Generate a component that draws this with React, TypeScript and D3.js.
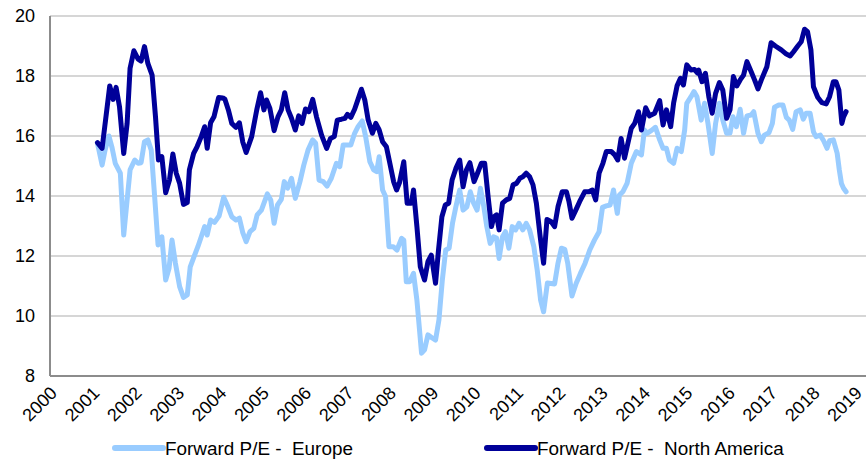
import React from "react";
import * as d3 from "d3";

// tick labels
const yearTicks = [2000, 2001, 2002, 2003, 2004, 2005, 2006, 2007, 2008, 2009, 2010, 2011, 2012, 2013, 2014, 2015, 2016, 2017, 2018, 2019];
const valueTicks = [8, 10, 12, 14, 16, 18, 20];

// Forward P/E - Europe (decimal year, value)
const europeDates = [
  2001.12, 2001.23, 2001.30, 2001.39, 2001.46, 2001.54, 2001.66, 2001.74, 2001.82, 2001.89,
  2002.00, 2002.08, 2002.15, 2002.23, 2002.31, 2002.39, 2002.47, 2002.55, 2002.64, 2002.73,
  2002.81, 2002.88, 2002.96, 2003.06, 2003.15, 2003.24, 2003.31, 2003.40, 2003.49, 2003.57,
  2003.65, 2003.71, 2003.79, 2003.88, 2003.99, 2004.10, 2004.20, 2004.29, 2004.39, 2004.47,
  2004.55, 2004.63, 2004.72, 2004.81, 2004.89, 2004.99, 2005.13, 2005.21, 2005.29, 2005.37,
  2005.46, 2005.53, 2005.61, 2005.70, 2005.79, 2005.90, 2005.99, 2006.09, 2006.20, 2006.27,
  2006.35, 2006.45, 2006.54, 2006.64, 2006.76, 2006.84, 2006.92, 2007.00, 2007.10, 2007.19,
  2007.27, 2007.37, 2007.45, 2007.55, 2007.64, 2007.71, 2007.77, 2007.85, 2007.92, 2008.00,
  2008.10, 2008.19, 2008.30, 2008.35, 2008.41, 2008.49, 2008.58, 2008.66, 2008.77, 2008.84,
  2008.92, 2009.03, 2009.10, 2009.18, 2009.26, 2009.34, 2009.42, 2009.50, 2009.58, 2009.67,
  2009.75, 2009.84, 2009.92, 2010.00, 2010.08, 2010.16, 2010.24, 2010.31, 2010.39, 2010.47,
  2010.54, 2010.60, 2010.68, 2010.75, 2010.83, 2010.91, 2010.99, 2011.07, 2011.16, 2011.24,
  2011.32, 2011.42, 2011.50, 2011.58, 2011.65, 2011.74, 2011.91, 2011.99, 2012.07, 2012.15,
  2012.22, 2012.32, 2012.42, 2012.52, 2012.63, 2012.74, 2012.85, 2012.96, 2013.04, 2013.13,
  2013.22, 2013.30, 2013.39, 2013.44, 2013.52, 2013.62, 2013.72, 2013.84, 2013.96, 2014.03,
  2014.09, 2014.19, 2014.29, 2014.39, 2014.47, 2014.55, 2014.62, 2014.72, 2014.80, 2014.90,
  2014.98, 2015.03, 2015.13, 2015.20, 2015.27, 2015.37, 2015.45, 2015.53, 2015.63, 2015.71,
  2015.80, 2015.88, 2015.97, 2016.05, 2016.12, 2016.20, 2016.29, 2016.37, 2016.45, 2016.55,
  2016.61, 2016.71, 2016.79, 2016.86, 2016.97, 2017.05, 2017.10, 2017.20, 2017.30, 2017.38,
  2017.45, 2017.53, 2017.61, 2017.71, 2017.78, 2017.85, 2017.94, 2018.02, 2018.08, 2018.18,
  2018.26, 2018.34, 2018.40, 2018.49, 2018.58, 2018.63, 2018.68, 2018.73, 2018.79,
];
const europeValues = [
  15.76, 15.03, 15.53, 16.0, 15.64, 15.09, 14.76, 12.7, 13.87, 14.87,
  15.2, 15.09, 15.11, 15.81, 15.87, 15.53, 13.98, 12.37, 12.64, 11.2,
  11.59, 12.53, 11.76, 10.98, 10.62, 10.7, 11.64, 11.98, 12.31, 12.64,
  12.98, 12.7, 13.2, 13.12, 13.33, 13.96, 13.64, 13.31, 13.2, 13.26,
  12.78, 12.48, 12.81, 12.92, 13.37, 13.53, 14.07, 13.87, 13.09, 13.7,
  13.89, 14.48, 14.26, 14.59, 13.92, 14.48, 15.03, 15.53, 15.87, 15.76,
  14.53, 14.48, 14.33, 14.59, 15.09, 14.98, 15.7, 15.7, 15.7, 16.09,
  16.31, 16.5, 15.98, 15.14, 14.87, 14.81, 15.31, 14.2, 13.98, 12.31,
  12.31, 12.2, 12.59, 12.53, 11.14, 11.14, 11.42, 10.53, 8.76, 8.87,
  9.37, 9.26, 9.2, 9.87, 11.2, 12.2, 12.26, 13.09, 13.64, 14.2,
  13.53, 13.64, 14.14, 13.76, 13.53, 14.26, 13.64, 12.98, 12.42, 12.64,
  12.6, 11.92, 12.64, 12.81, 12.26, 12.98, 12.87, 13.09, 12.87, 13.09,
  12.87, 12.31, 11.53, 10.53, 10.14, 11.1, 11.07, 11.76, 12.26, 12.22,
  11.76, 10.67, 11.09, 11.42, 11.76, 12.2, 12.53, 12.81, 13.62, 13.67,
  13.7, 14.2, 13.42, 14.03, 14.14, 14.42, 15.09, 15.48, 15.37, 16.2,
  16.09, 16.18, 16.29, 15.87, 15.59, 15.59, 15.2, 15.09, 15.59, 15.48,
  16.2, 17.09, 17.31, 17.48, 17.31, 16.53, 17.09, 16.42, 15.42, 16.42,
  17.09, 16.53, 16.09, 16.1, 16.64, 16.31, 16.89, 16.09, 16.67, 16.7,
  16.81, 16.09, 15.81, 16.03, 16.11, 16.42, 16.96, 17.03, 17.03, 16.62,
  16.53, 16.22, 16.81, 16.87, 16.56, 16.76, 16.76, 16.14, 15.98, 16.03,
  15.84, 15.59, 15.84, 15.87, 15.42, 14.87, 14.42, 14.26, 14.14,
];

// Forward P/E - North America (decimal year, value)
const naDates = [
  2001.12, 2001.23, 2001.41, 2001.49, 2001.56, 2001.64, 2001.74, 2001.82, 2001.89, 2001.98,
  2002.08, 2002.15, 2002.23, 2002.31, 2002.41, 2002.49, 2002.56, 2002.64, 2002.73, 2002.82,
  2002.90, 2002.98, 2003.06, 2003.15, 2003.24, 2003.29, 2003.39, 2003.47, 2003.57, 2003.65,
  2003.71, 2003.79, 2003.87, 2003.98, 2004.08, 2004.13, 2004.21, 2004.29, 2004.39, 2004.47,
  2004.55, 2004.63, 2004.76, 2004.88, 2004.97, 2005.05, 2005.11, 2005.19, 2005.29, 2005.38,
  2005.46, 2005.54, 2005.62, 2005.70, 2005.79, 2005.87, 2005.95, 2006.03, 2006.11, 2006.20,
  2006.29, 2006.41, 2006.53, 2006.62, 2006.71, 2006.78, 2006.88, 2006.96, 2007.02, 2007.10,
  2007.19, 2007.27, 2007.35, 2007.43, 2007.51, 2007.61, 2007.69, 2007.77, 2007.85, 2007.94,
  2008.02, 2008.11, 2008.18, 2008.25, 2008.35, 2008.43, 2008.53, 2008.58, 2008.66, 2008.74,
  2008.84, 2008.92, 2009.00, 2009.10, 2009.17, 2009.25, 2009.33, 2009.41, 2009.49, 2009.58,
  2009.67, 2009.75, 2009.83, 2009.91, 2010.01, 2010.09, 2010.18, 2010.26, 2010.34, 2010.42,
  2010.48, 2010.54, 2010.60, 2010.68, 2010.77, 2010.85, 2010.93, 2011.01, 2011.09, 2011.16,
  2011.24, 2011.32, 2011.40, 2011.48, 2011.57, 2011.65, 2011.73, 2011.83, 2011.91, 2011.99,
  2012.09, 2012.19, 2012.25, 2012.32, 2012.41, 2012.50, 2012.62, 2012.72, 2012.80, 2012.88,
  2012.96, 2013.05, 2013.13, 2013.25, 2013.33, 2013.40, 2013.48, 2013.56, 2013.64, 2013.72,
  2013.80, 2013.89, 2013.96, 2014.06, 2014.15, 2014.27, 2014.39, 2014.47, 2014.55, 2014.65,
  2014.72, 2014.80, 2014.88, 2014.95, 2015.03, 2015.13, 2015.21, 2015.28, 2015.31, 2015.39,
  2015.47, 2015.55, 2015.63, 2015.71, 2015.80, 2015.88, 2015.97, 2016.05, 2016.13, 2016.21,
  2016.29, 2016.37, 2016.45, 2016.55, 2016.63, 2016.71, 2016.79, 2016.92, 2017.02, 2017.12,
  2017.26, 2017.38, 2017.47, 2017.55, 2017.65, 2017.73, 2017.81, 2017.88, 2017.96, 2018.02,
  2018.12, 2018.22, 2018.32, 2018.40, 2018.49, 2018.55, 2018.62, 2018.69, 2018.73, 2018.79,
];
const naValues = [
  15.78, 15.59, 17.67, 17.22, 17.62, 16.98, 15.42, 16.42, 18.26, 18.84,
  18.56, 18.5, 18.98, 18.42, 18.03, 16.64, 15.2, 15.31, 14.11, 14.53,
  15.4, 14.76, 14.42, 13.72, 13.78, 14.87, 15.42, 15.64, 15.98, 16.31,
  15.59, 16.44, 16.64, 17.28, 17.27, 17.22, 16.87, 16.42, 16.29, 16.44,
  15.8, 15.45, 15.98, 16.87, 17.44, 16.87, 17.2, 16.92, 16.18, 16.64,
  16.87, 17.44, 16.87, 16.59, 16.2, 16.67, 16.42, 16.9, 16.81, 17.22,
  16.64, 16.03, 15.59, 15.92, 15.98, 16.53, 16.56, 16.59, 16.72, 16.62,
  16.89, 17.22, 17.56, 17.2, 16.53, 16.09, 16.42, 16.2, 15.81, 15.64,
  15.1, 14.48, 14.2, 14.45, 15.14, 13.76, 13.76, 14.2, 12.98, 11.64,
  11.2, 11.81, 12.03, 11.09, 12.2, 13.31, 13.7, 13.76, 14.53, 14.92,
  15.2, 14.31, 14.87, 15.11, 14.48, 14.76, 15.09, 15.09, 13.98, 12.98,
  13.31, 13.37, 12.87, 13.76, 13.87, 13.92, 14.37, 14.42, 14.59, 14.64,
  14.76, 14.64, 14.37, 13.76, 12.64, 11.76, 13.22, 13.14, 12.98, 13.64,
  14.14, 14.14, 13.81, 13.26, 13.53, 13.81, 14.14, 14.14, 14.2, 13.87,
  14.76, 15.09, 15.48, 15.48, 15.37, 15.2, 15.92, 15.26, 15.76, 16.26,
  16.42, 16.81, 16.2, 16.94, 16.67, 16.76, 17.18, 16.37, 16.87, 16.31,
  17.11, 17.67, 17.92, 17.7, 18.37, 18.2, 18.22, 18.1, 18.2, 17.81,
  18.09, 17.31, 16.76, 17.42, 17.78, 17.53, 16.59, 16.87, 17.98, 17.67,
  17.87, 18.03, 18.48, 18.14, 17.87, 17.57, 17.87, 18.31, 19.11, 19.0,
  18.87, 18.73, 18.67, 18.81, 19.0, 19.14, 19.56, 19.48, 18.87, 17.64,
  17.29, 17.11, 17.07, 17.31, 17.81, 17.81, 17.53, 16.42, 16.64, 16.81,
];

const legendItems = ["Forward P/E -  Europe", "Forward P/E -  North America"];
const seriesColors = ["#99CCFF", "#000099"];

const W = 866;
const H = 462;
const font = "'Liberation Sans', Arial, sans-serif";

export default function App() {
  const x = d3.scaleLinear().domain([2000, 2019.26]).range([50, 866]);
  const y = d3.scaleLinear().domain([8, 20]).range([376, 16]);

  const europePath = d3.line<number>()
    .x((_, i) => x(europeDates[i]))
    .y((d) => y(d))(europeValues);
  const naPath = d3.line<number>()
    .x((_, i) => x(naDates[i]))
    .y((d) => y(d))(naValues);

  const legendX = [115, 487];

  return (
    <svg
      width={W}
      height={H}
      style={{ position: "absolute", left: 0, top: 0, display: "block", background: "#fff" }}
      fontFamily={font}
    >
      {/* gridlines */}
      {valueTicks.map((v) => (
        <line key={v} x1={x.range()[0]} x2={x.range()[1]} y1={y(v)} y2={y(v)} stroke="#c8c8c8" strokeWidth={1.5} />
      ))}
      {/* axes */}
      <line x1={x.range()[0]} x2={x.range()[0]} y1={y(20)} y2={y(8)} stroke="#8c8c8c" strokeWidth={2} />
      <line x1={x.range()[0]} x2={x.range()[1]} y1={y(8)} y2={y(8)} stroke="#8c8c8c" strokeWidth={2} />

      {/* y labels */}
      {valueTicks.map((v) => (
        <text key={v} x={35} y={y(v)} dy="0.36em" textAnchor="end" fontSize={18} fill="#000">
          {v}
        </text>
      ))}
      {/* x labels */}
      {yearTicks.map((t) => (
        <text
          key={t}
          transform={`translate(${x(t) - 1},${385}) rotate(-45)`}
          textAnchor="end"
          dy="0.72em"
          fontSize={18}
          fill="#000"
        >
          {t}
        </text>
      ))}

      {/* series */}
      <path d={europePath ?? ""} fill="none" stroke={seriesColors[0]} strokeWidth={5} strokeLinejoin="round" strokeLinecap="round" />
      <path d={naPath ?? ""} fill="none" stroke={seriesColors[1]} strokeWidth={5} strokeLinejoin="round" strokeLinecap="round" />

      {/* legend */}
      {legendItems.map((name, i) => (
        <g key={name} transform={`translate(${legendX[i]},448)`}>
          <line x1={0} x2={48} y1={0} y2={0} stroke={seriesColors[i]} strokeWidth={6} strokeLinecap="round" />
          <text x={50} y={0} dy="0.36em" fontSize={18.9} fill="#000" style={{ whiteSpace: "pre" }}>
            {name}
          </text>
        </g>
      ))}
    </svg>
  );
}
